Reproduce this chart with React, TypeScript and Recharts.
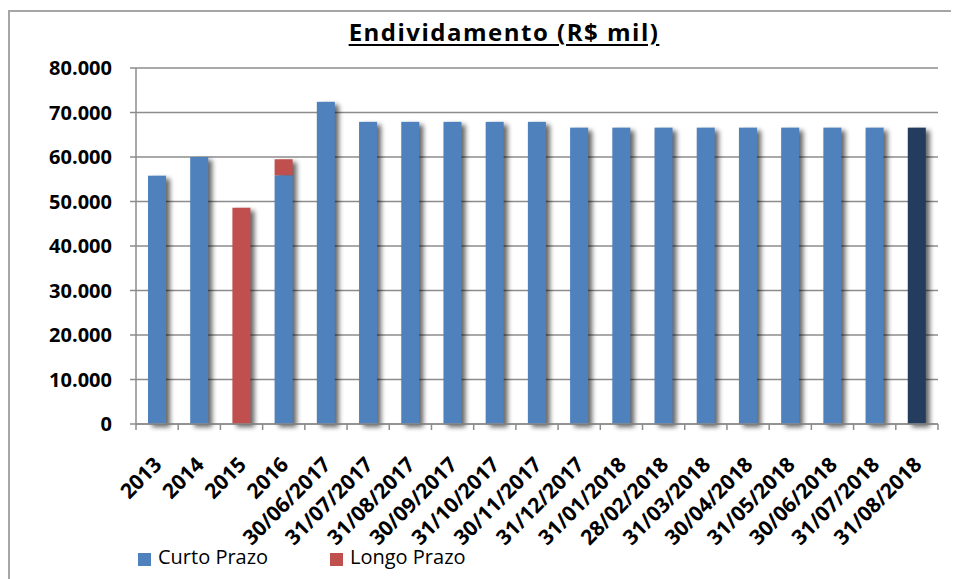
import React from 'react';
import { BarChart, Bar, XAxis, YAxis, CartesianGrid, Cell } from 'recharts';

const categories = [
  '2013', '2014', '2015', '2016',
  '30/06/2017', '31/07/2017', '31/08/2017', '30/09/2017', '31/10/2017', '30/11/2017', '31/12/2017',
  '31/01/2018', '28/02/2018', '31/03/2018', '30/04/2018', '31/05/2018', '30/06/2018', '31/07/2018', '31/08/2018',
];
const curtoPrazo = [
  55800, 60000, 0, 55900,
  72400, 67900, 67900, 67900, 67900, 67900, 66600,
  66600, 66600, 66600, 66600, 66600, 66600, 66600, 66600,
];
const longoPrazo = [
  0, 0, 48600, 3600,
  0, 0, 0, 0, 0, 0, 0,
  0, 0, 0, 0, 0, 0, 0, 0,
];
const yTicks = [0, 10000, 20000, 30000, 40000, 50000, 60000, 70000, 80000];
const seriesNames = ['Curto Prazo', 'Longo Prazo'];
const highlightIndex = 18;

const BLUE = '#4f81bd';
const RED = '#c0504d';
const NAVY = '#243d5f';
const FONT = "'Open Sans', sans-serif";

const data = categories.map((name, i) => ({ name, curto: curtoPrazo[i], longo: longoPrazo[i] }));

const W = 951;
const H = 571;
const MARGIN = { top: 60, right: 21, left: 0, bottom: 0 };
const Y_W = 128;
const X_H = 155;
const PLOT_W = W - MARGIN.left - MARGIN.right - Y_W;
const HALF = PLOT_W / categories.length / 2;

const fmt = (v: number) => (v === 0 ? '0' : String(v).replace(/\B(?=(\d{3})+(?!\d))/g, '.'));

function CurtoShape(props: any) {
  const { x, y, width, height, fill, payload } = props;
  if (!height || height <= 0) return null;
  const extra = payload && payload.longo && payload.curto ? (payload.longo * height) / payload.curto : 0;
  return (
    <g>
      <rect x={x + 4} y={y - extra + 3} width={width} height={height + extra} fill="#000" opacity={0.6} filter="url(#barShadow)" />
      <rect x={x} y={y} width={width} height={height} fill={fill} />
    </g>
  );
}

function LongoShape(props: any) {
  const { x, y, width, height, fill, payload } = props;
  if (!height || height <= 0) return null;
  return (
    <g>
      {payload && !payload.curto ? (
        <rect x={x + 4} y={y + 3} width={width} height={height} fill="#000" opacity={0.6} filter="url(#barShadow)" />
      ) : null}
      <rect x={x} y={y} width={width} height={height} fill={fill} />
    </g>
  );
}

function XTick(props: any) {
  const { x, y, payload, index } = props;
  const last = index === categories.length - 1;
  return (
    <g>
      <line x1={x - HALF} y1={y} x2={x - HALF} y2={y + 6} stroke="#8c8c8c" strokeWidth={1.5} />
      {last ? <line x1={x + HALF} y1={y} x2={x + HALF} y2={y + 6} stroke="#8c8c8c" strokeWidth={1.5} /> : null}
      <text
        x={x + 6}
        y={y + 42}
        transform={`rotate(-45, ${x + 6}, ${y + 42})`}
        textAnchor="end"
        fontFamily={FONT}
        fontWeight={700}
        fontSize={21}
        fill="#000"
      >
        {payload.value}
      </text>
    </g>
  );
}

export default function App() {
  return (
    <div style={{ position: 'relative', width: W, height: H, background: '#fff' }}>
      <div style={{ position: 'absolute', left: 0, top: 2, width: W, height: 2, background: '#a6a6a6' }} />
      <div style={{ position: 'absolute', left: 0, top: 2, width: 2, height: H - 2, background: '#a6a6a6' }} />
      <div
        style={{
          position: 'absolute',
          left: 296,
          top: 12,
          width: 400,
          textAlign: 'center',
          fontFamily: FONT,
          fontWeight: 700,
          fontSize: 24,
          lineHeight: '24px',
          letterSpacing: 1.5,
          color: '#000',
          textDecoration: 'underline',
          textDecorationThickness: 2,
          textUnderlineOffset: 3,
        }}
      >
        Endividamento (R$ mil)
      </div>
      <BarChart width={W} height={H} data={data} margin={MARGIN}>
        <defs>
          <filter id="barShadow" x="-60%" y="-10%" width="220%" height="130%">
            <feGaussianBlur stdDeviation="2.4" />
          </filter>
        </defs>
        <CartesianGrid vertical={false} stroke="#8c8c8c" strokeWidth={1.5} />
        <XAxis
          dataKey="name"
          interval={0}
          height={X_H}
          tick={<XTick />}
          tickLine={false}
          tickSize={0}
          tickMargin={0}
          axisLine={{ stroke: '#8c8c8c', strokeWidth: 1.5 }}
        />
        <YAxis
          width={Y_W}
          domain={[0, 80000]}
          ticks={yTicks}
          tickFormatter={fmt}
          tickSize={6}
          tickMargin={18}
          tickLine={{ stroke: '#8c8c8c', strokeWidth: 1.5 }}
          axisLine={{ stroke: '#8c8c8c', strokeWidth: 1.5 }}
          tick={{ fontFamily: FONT, fontWeight: 700, fontSize: 20, fill: '#000' }}
          interval={0}
        />
        <Bar dataKey="curto" name={seriesNames[0]} stackId="a" fill={BLUE} barSize={18} shape={<CurtoShape />} isAnimationActive={false}>
          {data.map((d, i) => (
            <Cell key={d.name} fill={i === highlightIndex ? NAVY : BLUE} />
          ))}
        </Bar>
        <Bar dataKey="longo" name={seriesNames[1]} stackId="a" fill={RED} barSize={18} shape={<LongoShape />} isAnimationActive={false} />
      </BarChart>
      <div style={{ position: 'absolute', left: 130, top: 545, width: 13, height: 13, background: BLUE }} />
      <div style={{ position: 'absolute', left: 150, top: 536, fontFamily: FONT, fontSize: 20, lineHeight: '26px', color: '#000', whiteSpace: 'nowrap' }}>
        {seriesNames[0]}
      </div>
      <div style={{ position: 'absolute', left: 322, top: 545, width: 13, height: 13, background: RED }} />
      <div style={{ position: 'absolute', left: 342, top: 536, fontFamily: FONT, fontSize: 20, lineHeight: '26px', color: '#000', whiteSpace: 'nowrap' }}>
        {seriesNames[1]}
      </div>
    </div>
  );
}
